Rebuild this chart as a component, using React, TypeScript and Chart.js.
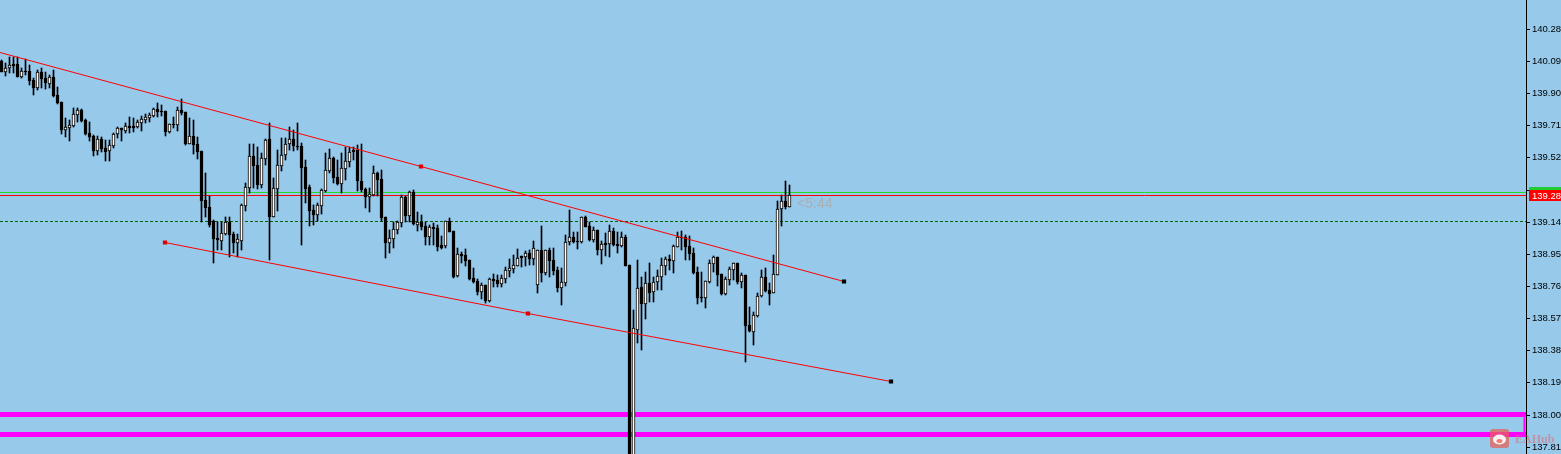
import { useEffect, useRef } from "react";
import { Chart, registerables } from "chart.js";

Chart.register(...registerables);

const opens = [
  140.089,140.024,140.048,140.072,140.072,139.995,140.030,140.030,139.977,139.930,
  140.024,139.989,139.954,139.995,139.888,139.847,139.682,139.694,139.705,139.770,
  139.800,139.741,139.664,139.646,139.558,139.629,139.575,139.558,139.587,139.658,
  139.694,139.676,139.705,139.705,139.699,139.723,139.741,139.753,139.764,139.806,
  139.794,139.794,139.670,139.717,139.711,139.800,139.788,139.599,139.646,139.599,
  139.558,139.268,139.227,139.144,139.044,139.026,139.067,139.138,139.067,139.014,
  139.026,139.233,139.339,139.528,139.475,139.357,139.510,139.629,139.168,139.333,
  139.469,139.534,139.599,139.629,139.587,139.587,139.463,139.345,139.209,139.179,
  139.233,139.321,139.439,139.516,139.404,139.363,139.451,139.493,139.564,139.564,
  139.380,139.333,139.286,139.297,139.428,139.392,139.168,139.014,139.038,139.091,
  139.132,139.286,139.173,139.315,139.120,139.138,139.114,139.049,139.108,139.103,
  139.002,138.996,139.144,139.085,138.819,138.949,138.943,138.913,138.807,138.789,
  138.724,138.766,138.671,138.801,138.795,138.772,138.801,138.848,138.860,138.878,
  138.937,138.931,138.955,138.919,138.766,138.973,138.837,138.973,138.913,138.854,
  138.748,138.777,139.020,139.049,139.026,139.020,139.168,139.114,139.032,139.091,
  138.973,139.014,139.008,139.085,139.008,138.996,139.049,138.884,137.700,138.500,
  138.754,138.653,138.777,138.724,138.783,138.813,138.878,138.919,138.907,138.990,
  139.049,139.049,138.996,138.955,138.842,138.695,138.689,138.783,138.890,138.931,
  138.831,138.712,138.795,138.854,138.896,138.783,138.825,138.530,138.488,138.582,
  138.701,138.813,138.736,138.718,138.825,139.215,139.262,139.227,
];

const highs = [
  140.095,140.078,140.113,140.113,140.113,140.048,140.101,140.066,139.989,140.036,
  140.048,140.024,140.007,140.036,139.936,139.847,139.753,139.741,139.812,139.812,
  139.806,139.747,139.729,139.652,139.646,139.640,139.623,139.623,139.664,139.699,
  139.694,139.723,139.759,139.753,139.741,139.764,139.776,139.782,139.812,139.841,
  139.829,139.794,139.717,139.759,139.818,139.865,139.788,139.753,139.741,139.640,
  139.558,139.428,139.292,139.150,139.138,139.138,139.168,139.168,139.079,139.067,
  139.244,139.368,139.599,139.599,139.581,139.546,139.629,139.723,139.398,139.564,
  139.634,139.634,139.699,139.682,139.723,139.605,139.504,139.357,139.238,139.250,
  139.333,139.546,139.569,139.522,139.504,139.546,139.581,139.581,139.581,139.593,
  139.599,139.339,139.339,139.469,139.434,139.445,139.168,139.091,139.138,139.144,
  139.297,139.292,139.321,139.327,139.197,139.179,139.138,139.120,139.132,139.120,
  139.055,139.144,139.162,139.085,138.985,138.961,138.979,138.913,138.866,138.801,
  138.777,138.766,138.807,138.831,138.825,138.825,138.872,138.919,138.943,138.979,
  138.937,138.967,138.973,139.026,138.973,139.114,138.973,138.985,138.985,138.872,
  138.866,139.061,139.209,139.079,139.079,139.168,139.173,139.138,139.108,139.091,
  139.026,139.073,139.120,139.103,139.079,139.079,139.061,138.884,138.618,138.913,
  138.813,138.842,138.896,138.813,138.854,138.925,138.931,138.943,139.002,139.079,
  139.085,139.061,139.055,138.985,138.872,138.842,138.789,138.913,138.937,138.931,
  138.831,138.813,138.872,138.896,138.896,138.837,138.825,138.636,138.606,138.718,
  138.854,138.866,138.777,138.943,139.262,139.297,139.380,139.357,
];

const lows = [
  140.024,140.001,140.019,140.019,139.995,139.989,140.007,139.948,139.889,139.918,
  139.930,139.924,139.930,139.877,139.835,139.658,139.640,139.617,139.699,139.729,
  139.729,139.652,139.617,139.528,139.534,139.552,139.498,139.498,139.575,139.634,
  139.617,139.664,139.664,139.670,139.694,139.676,139.723,139.729,139.759,139.759,
  139.764,139.646,139.664,139.694,139.676,139.770,139.593,139.599,139.540,139.510,
  139.138,139.168,139.108,138.896,138.973,138.973,139.061,138.931,138.955,138.931,
  138.973,139.203,139.309,139.339,139.333,139.339,139.475,138.913,139.168,139.203,
  139.439,139.504,139.564,139.558,139.564,139.002,139.250,139.114,139.120,139.144,
  139.185,139.315,139.428,139.368,139.357,139.309,139.386,139.463,139.504,139.321,
  139.315,139.221,139.197,139.292,139.292,139.144,138.925,138.955,138.985,139.067,
  139.108,139.138,139.138,139.120,139.085,139.091,139.002,139.002,139.002,138.967,
  138.979,138.985,139.079,138.807,138.813,138.896,138.878,138.795,138.777,138.707,
  138.683,138.659,138.665,138.754,138.754,138.754,138.777,138.813,138.837,138.878,
  138.872,138.878,138.884,138.884,138.718,138.783,138.825,138.813,138.825,138.724,
  138.648,138.760,139.002,139.014,138.979,139.014,139.108,139.026,139.020,138.943,
  138.890,138.937,138.931,138.996,138.955,138.990,138.878,137.650,137.650,138.423,
  138.382,138.565,138.665,138.665,138.736,138.736,138.825,138.854,138.837,138.990,
  138.973,138.913,138.913,138.831,138.653,138.665,138.630,138.777,138.842,138.760,
  138.707,138.707,138.766,138.795,138.772,138.748,138.311,138.488,138.411,138.577,
  138.695,138.724,138.648,138.718,138.825,139.114,139.215,139.227,
];

const closes = [
  140.024,140.048,140.066,140.060,139.995,140.030,140.024,139.971,139.930,140.024,
  139.983,139.959,139.995,139.883,139.841,139.682,139.699,139.711,139.776,139.800,
  139.735,139.658,139.640,139.558,139.629,139.569,139.552,139.593,139.658,139.694,
  139.682,139.705,139.694,139.694,139.729,139.747,139.759,139.770,139.806,139.788,
  139.788,139.670,139.717,139.711,139.800,139.782,139.599,139.646,139.593,139.552,
  139.262,139.221,139.120,139.038,139.032,139.073,139.138,139.061,139.014,139.038,
  139.238,139.345,139.528,139.469,139.357,139.516,139.623,139.168,139.339,139.475,
  139.534,139.599,139.629,139.587,139.581,139.457,139.333,139.203,139.179,139.238,
  139.327,139.445,139.516,139.398,139.363,139.457,139.498,139.552,139.552,139.380,
  139.327,139.286,139.303,139.428,139.386,139.162,139.014,139.044,139.097,139.138,
  139.286,139.173,139.315,139.126,139.138,139.108,139.049,139.108,139.097,138.990,
  138.985,139.144,139.079,138.813,138.949,138.937,138.907,138.801,138.783,138.724,
  138.766,138.671,138.801,138.789,138.772,138.807,138.854,138.866,138.884,138.925,
  138.925,138.955,138.919,138.985,138.973,138.837,138.973,138.907,138.848,138.748,
  138.783,139.020,139.049,139.020,139.020,139.168,139.108,139.032,139.091,138.973,
  139.008,139.002,139.085,139.002,138.996,139.049,138.878,137.700,138.512,138.748,
  138.653,138.777,138.718,138.783,138.819,138.884,138.919,138.907,138.996,139.049,
  139.044,138.990,138.949,138.837,138.689,138.689,138.789,138.896,138.931,138.825,
  138.712,138.801,138.860,138.896,138.783,138.825,138.524,138.494,138.588,138.701,
  138.813,138.730,138.712,138.831,139.215,139.262,139.227,139.297,
];

const axisTicks = [140.28,140.09,139.9,139.71,139.52,139.33,139.14,138.95,138.76,138.57,138.38,138.19,138.0,137.81];

const askLevel = 139.315;
const bidLevel = 139.297;
const dashedLevel = 139.142;
const zoneTop = 138.003;
const zoneBottom = 137.885;
const upperTrendX = [-0.375, 104.875, 210.625];
const upperTrendY = [140.143, 139.469, 138.789];
const lowerTrendX = [40.875, 131.625, 222.375];
const lowerTrendY = [139.02, 138.6, 138.198];
const askLabel = "139.315";
const bidLabel = "139.280";
const countdown = "<5:44";
const watermark = "EAHub";

const X_MIN = -0.375;
const X_MAX = 381.125;
const ZONE_EDGE = 380.75;
const Y_MAX = 140.45;
const Y_MIN = 137.767;
const BG = "#96c9ea";
const AXIS_FONT = "9.5px 'Liberation Sans', Arial, sans-serif";

const hline = (value: number, color: string, width: number, order: number, dash: number[] = []) => ({
  type: "line" as const,
  data: [{ x: X_MIN, y: value }, { x: X_MAX, y: value }],
  borderColor: color,
  borderWidth: width,
  borderDash: dash,
  pointRadius: 0,
  order,
});

const trend = (xs: number[], ys: number[], markers: number[], colors: string[]) => ({
  type: "line" as const,
  data: xs.map((x, i) => ({ x, y: ys[i] })),
  borderColor: "#ff0000",
  borderWidth: 1,
  pointStyle: "rect" as const,
  pointRadius: markers,
  pointBackgroundColor: colors,
  pointBorderColor: colors,
  pointBorderWidth: 0,
  order: 0,
});

const crispLines = {
  id: "crispLines",
  beforeDatasetDraw(chart: any, args: any) {
    if (args.meta.type === "line") {
      chart.ctx.save();
      chart.ctx.translate(0, 0.5);
    }
  },
  afterDatasetDraw(chart: any, args: any) {
    if (args.meta.type === "line") chart.ctx.restore();
  },
};

const annotations = {
  id: "annotations",
  afterDraw(chart: any) {
    const { ctx, scales } = chart;
    const y = scales.y;
    const x = scales.x;
    ctx.save();
    ctx.textBaseline = "middle";
    ctx.textAlign = "left";

    ctx.font = "14px 'Liberation Sans', Arial, sans-serif";
    ctx.fillStyle = "#a9afb3";
    ctx.fillText(countdown, x.getPixelForValue(198.9), y.getPixelForValue(139.25) + 1);

    const box = (value: number, color: string, text: string, top: number, bottom: number) => {
      ctx.fillStyle = color;
      ctx.fillRect(1529, top, 32, bottom - top);
      ctx.fillStyle = "#ffffff";
      ctx.font = AXIS_FONT;
      ctx.fillText(text, 1532, y.getPixelForValue(value) + 1);
    };
    box(askLevel, "#22cc33", askLabel, 187, 198);
    box(bidLevel, "#ff0000", bidLabel, 190, 201);

    ctx.fillStyle = "rgba(232,96,88,0.72)";
    ctx.beginPath();
    ctx.roundRect(1490, 429, 19, 19, 3);
    ctx.fill();
    ctx.fillStyle = "rgba(255,255,255,0.9)";
    ctx.beginPath();
    ctx.ellipse(1499.5, 439.5, 6.5, 5, 0, 0, Math.PI * 2);
    ctx.fill();
    ctx.fillStyle = "rgba(232,96,88,0.8)";
    ctx.beginPath();
    ctx.ellipse(1499.5, 441, 3, 2, 0, 0, Math.PI * 2);
    ctx.fill();
    ctx.fillStyle = "rgba(226,104,110,0.55)";
    ctx.font = "bold 12px 'Liberation Serif', serif";
    ctx.fillText(watermark, 1515, 440);
    ctx.restore();
  },
};

export default function App() {
  const ref = useRef<HTMLCanvasElement>(null);

  useEffect(() => {
    document.body.style.margin = "0";
    const indices = opens.map((_, i) => i);
    const chart = new Chart(ref.current as HTMLCanvasElement, {
      type: "bar",
      data: {
        datasets: [
          trend(upperTrendX, upperTrendY, [0, 3, 3], ["#ff0000", "#e00000", "#000000"]),
          trend(lowerTrendX, lowerTrendY, [3, 3, 3], ["#e00000", "#e00000", "#000000"]),
          {
            type: "bar" as const,
            data: indices.map((i) => ({ x: i, y: [opens[i], closes[i]] })),
            maxBarThickness: 3,
            minBarLength: 1,
            borderWidth: 1,
            borderSkipped: false,
            borderColor: "#000000",
            backgroundColor: (c: any) => {
              const i = c.dataIndex;
              return closes[i] > opens[i] ? "#ffffff" : "#000000";
            },
            order: 1,
          },
          {
            type: "bar" as const,
            data: indices.map((i) => ({ x: i, y: [lows[i], highs[i]] })),
            maxBarThickness: 1,
            backgroundColor: "#000000",
            order: 2,
          },
          hline(askLevel, "#22dd22", 1, 3),
          hline(bidLevel, "#ff0000", 1, 3),
          hline(dashedLevel, "#006400", 1, 3, [3, 2]),
          hline(zoneTop, "#ff00ff", 5, 4),
          hline(zoneBottom, "#ff00ff", 5, 4),
          {
            type: "line" as const,
            data: [{ x: ZONE_EDGE, y: zoneTop }, { x: ZONE_EDGE, y: zoneBottom }],
            borderColor: "#ff00ff",
            borderWidth: 2,
            pointRadius: 0,
            order: 4,
          },
        ] as any,
      },
      options: {
        responsive: false,
        animation: false,
        layout: { padding: 0, autoPadding: false },
        events: [],
        datasets: { bar: { grouped: false, barPercentage: 1, categoryPercentage: 1 } },
        plugins: { legend: { display: false }, tooltip: { enabled: false } },
        scales: {
          x: { type: "linear", min: X_MIN, max: X_MAX, offset: false, display: false, grid: { display: false } },
          y: {
            type: "linear",
            position: "right",
            min: Y_MIN,
            max: Y_MAX,
            beginAtZero: false,
            afterDataLimits: (s: any) => {
              const base = Object.getPrototypeOf(s).getPixelForValue;
              s.getPixelForValue = (v: number) => Math.round(base.call(s, v));
            },
            afterBuildTicks: (s: any) => {
              s.ticks = axisTicks.map((value) => ({ value }));
            },
            afterFit: (s: any) => {
              s.width = 35;
              s.paddingTop = 0;
              s.paddingBottom = 0;
            },
            grid: { drawOnChartArea: false, drawTicks: true, tickLength: 4, color: "#000000", lineWidth: 1 },
            border: { color: "#000000", width: 1 },
            ticks: {
              autoSkip: false,
              padding: 2,
              color: "#000000",
              font: { family: "'Liberation Sans', Arial, sans-serif", size: 9.5 },
              callback: (v: any) => Number(v).toFixed(3),
            },
          },
        },
      } as any,
      plugins: [crispLines, annotations],
    });
    return () => chart.destroy();
  }, []);

  return (
    <div style={{ position: "absolute", left: 0, top: 0, width: 1561, height: 454, background: BG, overflow: "hidden" }}>
      <canvas ref={ref} width={1561} height={454} style={{ display: "block" }} />
    </div>
  );
}
